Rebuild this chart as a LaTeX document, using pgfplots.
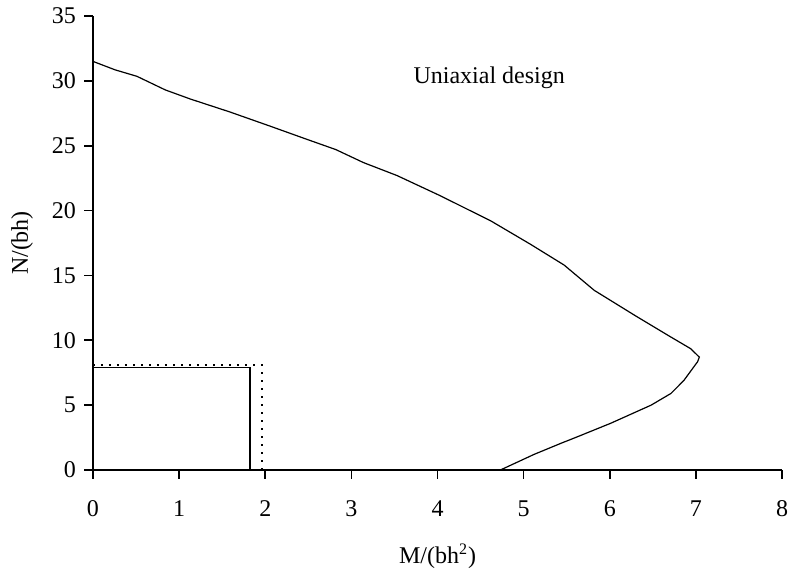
\documentclass[border=0pt]{standalone}
\usepackage{fontspec}
\setmainfont{Liberation Serif}
\usepackage{pgfplots}
\pgfplotsset{compat=1.18}
\begin{document}
\fontsize{12}{14}\selectfont
\begin{tikzpicture}
\begin{axis}[
    name=ax,
    scale only axis,
    width=344.5pt,
    height=227pt,
    xmin=0, xmax=8,
    ymin=0, ymax=35,
    axis lines*=left,
    axis line style={line width=0.8pt},
    tick style={line width=0.8pt, black},
    tick align=outside,
    major tick length=4.3pt,
    xtick={0,1,...,8},
    ytick={0,5,...,35},
    /pgf/number format/assume math mode=true,
    xticklabel style={yshift=-7pt},
    xlabel={M/(bh\textsuperscript{2})},
    ylabel={N/(bh)},
    xlabel style={at={(axis description cs:0.5,0)}, anchor=center, yshift=-43pt},
    ylabel style={at={(axis description cs:-0.103,0.5)}, anchor=center},
    clip=false
]
    % interaction curve
    \addplot[black, line width=0.6pt] coordinates {
        (0,31.5) (0.256,30.85) (0.51,30.35) (0.84,29.3) (1.13,28.6)
        (1.59,27.6) (2.06,26.5) (2.48,25.5) (2.82,24.7) (3.14,23.7)
        (3.53,22.7) (4.03,21.15) (4.62,19.2) (5.08,17.4) (5.47,15.8)
        (5.82,13.85) (6.32,11.8) (6.71,10.25) (6.94,9.35) (7.04,8.7)
        (7.02,8.35) (6.86,6.9) (6.71,5.9) (6.48,5.0) (6.01,3.6)
        (5.62,2.55) (5.43,2.05) (5.12,1.2) (4.73,0)
    };
    % design point (solid)
    \addplot[black, line width=0.8pt] coordinates {
        (0,7.9) (1.82,7.9) (1.82,0)
    };
    % design point (dotted)
    \addplot[black, line width=1.1pt, dash pattern=on 1.1pt off 2.9pt] coordinates {
        (0,8.1) (1.96,8.1) (1.96,0)
    };
    \node at (axis cs:4.6,30.2) {Uniaxial design};
\end{axis}
\pgfresetboundingbox
\useasboundingbox ([shift={(-46.5pt,-56pt)}]ax.south west) rectangle ([shift={(3pt,8pt)}]ax.north east);
\end{tikzpicture}
\end{document}
